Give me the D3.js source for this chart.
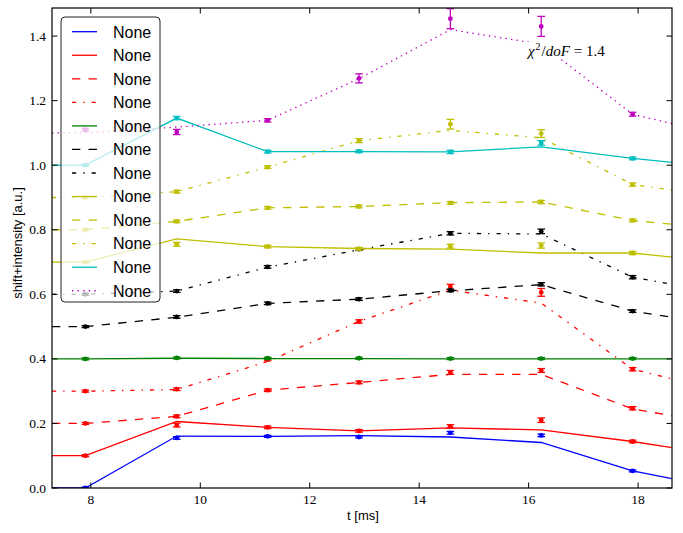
<!DOCTYPE html>
<html><head><meta charset="utf-8">
<script src="https://cdn.jsdelivr.net/npm/d3@7"></script>
<style>body{margin:0;background:#fff}svg{display:block}</style>
</head><body>
<svg id="chart" width="683" height="533"></svg>
<script>
// ---- data ----
const tPoints = [7.9, 9.57, 11.23, 12.9, 14.57, 16.23, 17.9];
const tLine = [7.29, 7.9, 9.57, 11.23, 12.9, 14.57, 16.23, 17.9, 18.62];
const seriesNames = ["None","None","None","None","None","None","None","None","None","None","None","None"];
const xTicks = [8, 10, 12, 14, 16, 18];
const yTicks = [0.0, 0.2, 0.4, 0.6, 0.8, 1.0, 1.2, 1.4];

const lineBlue      = [0, 0, 0.161, 0.160, 0.162, 0.158, 0.141, 0.053, 0.029];
const ptsBlue       = [0, 0.155, 0.160, 0.158, 0.171, 0.163, 0.053];
const errBlue       = [0.003,0.004,0.003,0.003,0.004,0.004,0.003];
const lineRed       = [0.1, 0.1, 0.206, 0.188, 0.177, 0.186, 0.180, 0.144, 0.125];
const ptsRed        = [0.1, 0.195, 0.188, 0.177, 0.191, 0.210, 0.144];
const errRed        = [0.003,0.006,0.004,0.004,0.005,0.007,0.004];
const lineRedDash   = [0.2, 0.2, 0.222, 0.303, 0.327, 0.352, 0.352, 0.245, 0.224];
const ptsRedDash    = [0.2, 0.222, 0.303, 0.327, 0.358, 0.364, 0.247];
const errRedDash    = [0.003,0.004,0.004,0.004,0.006,0.006,0.005];
const lineRedDD     = [0.3, 0.3, 0.305, 0.392, 0.516, 0.613, 0.573, 0.368, 0.338];
const ptsRedDD      = [0.3, 0.306, 0.398, 0.516, 0.623, 0.606, 0.368];
const errRedDD      = [0.003,0.004,0.004,0.005,0.008,0.012,0.005];
const lineGreen     = [0.4, 0.4, 0.402, 0.401, 0.401, 0.400, 0.400, 0.400, 0.400];
const ptsGreen      = [0.4, 0.403, 0.402, 0.402, 0.401, 0.401, 0.401];
const errGreen      = [0.003,0.003,0.003,0.003,0.003,0.003,0.003];
const lineBlkDash   = [0.5, 0.5, 0.529, 0.572, 0.585, 0.611, 0.630, 0.548, 0.529];
const ptsBlkDash    = [0.5, 0.530, 0.572, 0.585, 0.612, 0.631, 0.548];
const errBlkDash    = [0.003,0.004,0.004,0.004,0.004,0.005,0.004];
const lineBlkDD     = [0.6, 0.6, 0.610, 0.684, 0.738, 0.789, 0.787, 0.653, 0.631];
const ptsBlkDD      = [0.6, 0.610, 0.685, 0.740, 0.789, 0.795, 0.653];
const errBlkDD      = [0.003,0.004,0.004,0.004,0.005,0.007,0.005];
const lineYel       = [0.7, 0.7, 0.772, 0.748, 0.742, 0.740, 0.728, 0.728, 0.715];
const ptsYel        = [0.7, 0.755, 0.748, 0.741, 0.749, 0.751, 0.728];
const errYel        = [0.003,0.006,0.004,0.004,0.006,0.008,0.005];
const lineYelDash   = [0.8, 0.8, 0.826, 0.868, 0.872, 0.884, 0.886, 0.829, 0.817];
const ptsYelDash    = [0.8, 0.826, 0.868, 0.872, 0.883, 0.886, 0.829];
const errYelDash    = [0.003,0.004,0.004,0.004,0.004,0.005,0.004];
const lineYelDD     = [0.9, 0.9, 0.918, 0.994, 1.076, 1.108, 1.085, 0.940, 0.923];
const ptsYelDD      = [0.9, 0.918, 0.994, 1.076, 1.127, 1.098, 0.940];
const errYelDD      = [0.003,0.004,0.004,0.006,0.015,0.012,0.005];
const lineCyan      = [1.0, 1.0, 1.146, 1.042, 1.042, 1.041, 1.057, 1.021, 1.009];
const ptsCyan       = [1.0, 1.146, 1.042, 1.043, 1.041, 1.069, 1.021];
const errCyan       = [0.003,0.005,0.004,0.004,0.005,0.007,0.004];
const lineMag       = [1.1, 1.1, 1.118, 1.139, 1.268, 1.42, 1.375, 1.158, 1.129];
const ptsMag        = [1.11, 1.103, 1.139, 1.269, 1.454, 1.430, 1.158];
const errMag        = [0.004,0.008,0.005,0.014,0.031,0.031,0.006];

const colors = ["#0000ff","#ff0000","#ff0000","#ff0000","#008000","#000000","#000000","#bfbf00","#bfbf00","#bfbf00","#00bfbf","#bf00bf"];
const styles = ["solid","solid","dashed","dashdot","solid","dashed","dashdot","solid","dashed","dashdot","solid","dotted"];
const lines = [lineBlue,lineRed,lineRedDash,lineRedDD,lineGreen,lineBlkDash,lineBlkDD,lineYel,lineYelDash,lineYelDD,lineCyan,lineMag];
const pts = [ptsBlue,ptsRed,ptsRedDash,ptsRedDD,ptsGreen,ptsBlkDash,ptsBlkDD,ptsYel,ptsYelDash,ptsYelDD,ptsCyan,ptsMag];
const errs = [errBlue,errRed,errRedDash,errRedDD,errGreen,errBlkDash,errBlkDD,errYel,errYelDash,errYelDD,errCyan,errMag];

// ---- layout ----
const M = {left: 52, right: 672, top: 8, bottom: 488};
const dashMap = {solid: null, dashed: "8.3,8.3", dashdot: "4.2,7,1.4,7", dotted: "1.4,4.2"};
const svg = d3.select("#chart");
const x = d3.scaleLinear().domain([7.29, 18.62]).range([M.left, M.right]);
const y = d3.scaleLinear().domain([0, 1.487]).range([M.bottom, M.top]);

svg.append("defs").append("clipPath").attr("id","clip")
  .append("rect").attr("x",M.left).attr("y",M.top).attr("width",M.right-M.left).attr("height",M.bottom-M.top);

const plot = svg.append("g").attr("clip-path","url(#clip)");
const lineGen = d3.line().x((d,i)=>x(tLine[i])).y(d=>y(d));

lines.forEach((ld, s) => {
  const g = plot.append("g");
  g.append("path").attr("d", lineGen(ld)).attr("fill","none")
    .attr("stroke", colors[s]).attr("stroke-width",1.3)
    .attr("stroke-dasharray", dashMap[styles[s]]);
  pts[s].forEach((v,i) => {
    const cx = x(tPoints[i]);
    const e = errs[s][i];
    g.append("line").attr("x1",cx).attr("x2",cx).attr("y1",y(v-e)).attr("y2",y(v+e))
      .attr("stroke",colors[s]).attr("stroke-width",1.3);
    [v-e, v+e].forEach(c => g.append("line").attr("x1",cx-3.8).attr("x2",cx+3.8)
      .attr("y1",y(c)).attr("y2",y(c)).attr("stroke",colors[s]).attr("stroke-width",1.3));
    g.append("circle").attr("cx",cx).attr("cy",y(v)).attr("r",2.4).attr("fill",colors[s]);
  });
});

// annotation with white box
const ann = svg.append("g");
const annText = ann.append("text").attr("x",528).attr("y",56)
  .attr("font-family","Liberation Serif, DejaVu Serif, serif").attr("font-size",15).attr("fill","#000");
annText.append("tspan").attr("font-style","italic").text("χ");
annText.append("tspan").attr("font-size",10).attr("dx",1).attr("dy",-6).text("2");
annText.append("tspan").attr("dx",1).attr("dy",6).text("/");
annText.append("tspan").attr("font-style","italic").text("doF");
annText.append("tspan").text(" = 1.4");
const bb = annText.node().getBBox();
ann.insert("rect","text").attr("x",bb.x-3).attr("y",bb.y+1).attr("width",bb.width+3).attr("height",bb.height-1).attr("fill","#fff");

// frame
svg.append("rect").attr("x",M.left).attr("y",M.top).attr("width",M.right-M.left).attr("height",M.bottom-M.top)
  .attr("fill","none").attr("stroke","#000").attr("stroke-width",1.2);

// ticks (inward, all sides)
const tk = svg.append("g").attr("stroke","#000").attr("stroke-width",1);
const TL = 5.5;
xTicks.forEach(t => {
  tk.append("line").attr("x1",x(t)).attr("x2",x(t)).attr("y1",M.bottom).attr("y2",M.bottom-TL);
  tk.append("line").attr("x1",x(t)).attr("x2",x(t)).attr("y1",M.top).attr("y2",M.top+TL);
});
yTicks.forEach(t => {
  tk.append("line").attr("x1",M.left).attr("x2",M.left+TL).attr("y1",y(t)).attr("y2",y(t));
  tk.append("line").attr("x1",M.right).attr("x2",M.right-TL).attr("y1",y(t)).attr("y2",y(t));
});
const tf = "Liberation Serif, DejaVu Serif, serif";
svg.append("g").selectAll("text").data(xTicks).join("text")
  .attr("x",d=>x(d)).attr("y",504).attr("text-anchor","middle")
  .attr("font-family",tf).attr("font-size",13.5).text(d=>d3.format("d")(d));
svg.append("g").selectAll("text").data(yTicks).join("text")
  .attr("x",46).attr("y",d=>y(d)+4.5).attr("text-anchor","end")
  .attr("font-family",tf).attr("font-size",13.5).text(d=>d3.format(".1f")(d));

// axis labels
svg.append("text").attr("x",363).attr("y",520).attr("text-anchor","middle")
  .attr("font-family","Liberation Sans, Arial, sans-serif").attr("font-size",13).text("t [ms]");
svg.append("text").attr("transform","translate(22,243) rotate(-90)").attr("text-anchor","middle")
  .attr("font-family","Liberation Sans, Arial, sans-serif").attr("font-size",13).text("shift+intensity [a.u.]");

// legend
const lg = svg.append("g");
lg.append("rect").attr("x",61).attr("y",17).attr("width",99).attr("height",285).attr("rx",4)
  .attr("fill","#fff").attr("fill-opacity",0.72).attr("stroke","#222").attr("stroke-width",1);
seriesNames.forEach((n,i) => {
  const yy = 31.7 + i*23.55;
  lg.append("line").attr("x1",72).attr("x2",97).attr("y1",yy).attr("y2",yy)
    .attr("stroke",colors[i]).attr("stroke-width",1.3).attr("stroke-dasharray",dashMap[styles[i]]);
  lg.append("text").attr("x",113).attr("y",yy+5.8)
    .attr("font-family","Liberation Sans, Arial, sans-serif").attr("font-size",16).text(n);
});
</script>
</body></html>
